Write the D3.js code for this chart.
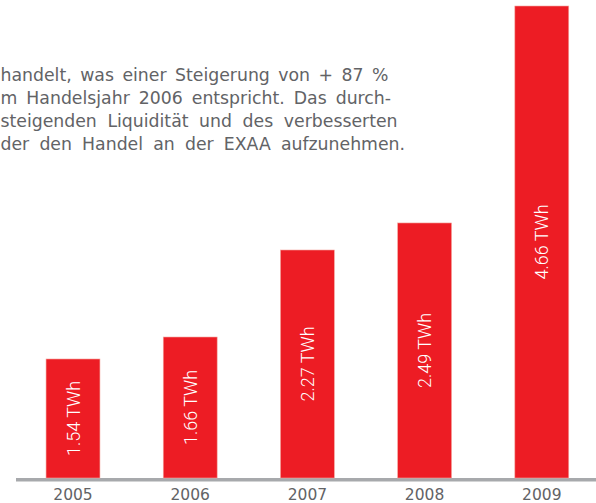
<!DOCTYPE html>
<html>
<head>
<meta charset="utf-8">
<script src="https://cdn.jsdelivr.net/npm/d3@7"></script>
<style>
  html, body { margin: 0; padding: 0; background: #ffffff; }
  svg { display: block; }
</style>
</head>
<body>
<svg id="chart" width="596" height="503"></svg>
<script>
// ---- data ----
const years = ["2005", "2006", "2007", "2008", "2009"];
const volumeLabels = ["1.54 TWh", "1.66 TWh", "2.27 TWh", "2.49 TWh", "4.66 TWh"];
// drawn bar heights as they appear in the picture (TWh scale)
const barHeights = [1.175, 1.392, 2.251, 2.518, 4.66];
const textLines = [
  "handelt, was einer Steigerung von + 87 %",
  "m Handelsjahr 2006 entspricht. Das durch-",
  "steigenden Liquidität und des verbesserten",
  "der den Handel an der EXAA aufzunehmen."
];

const W = 596, H = 503;
const baseY = 478;
const svg = d3.select("#chart");

const x = d3.scaleBand().domain(years).range([14.4, 600.4]).paddingInner(0.54).paddingOuter(0.27);
const y = d3.scaleLinear().domain([0, 4.66]).range([baseY, 6]);

// paragraph text (justified fragments of a cropped paragraph)
const textLeft = [0.5, 0.5, 0.5, 0.5];
const textRight = [388.5, 391, 397.5, 405];
const lineY = d3.scaleLinear().domain([0, 3]).range([80.5, 150]);
svg.append("g").selectAll("text").data(textLines).join("text")
  .attr("x", (d, i) => textLeft[i])
  .attr("y", (d, i) => lineY(i))
  .attr("font-family", "'DejaVu Sans', Verdana, sans-serif")
  .attr("font-size", 17.3)
  .attr("fill", "#626366")
  .text(d => d)
  .each(function (d, i) {
    const natural = this.getComputedTextLength();
    const spaces = (d.match(/ /g) || []).length;
    const extra = (textRight[i] - textLeft[i]) - natural;
    if (spaces > 0) d3.select(this).style("word-spacing", (extra / spaces) + "px");
  });

// baseline
svg.append("line")
  .attr("x1", 16).attr("x2", W)
  .attr("y1", baseY + 1.8).attr("y2", baseY + 1.8)
  .attr("stroke", "#a7a9ac").attr("stroke-width", 3.6);

const data = years.map((yr, i) => ({ yr, h: barHeights[i], label: volumeLabels[i] }));

// bars
svg.append("g").selectAll("rect").data(data).join("rect")
  .attr("x", d => x(d.yr))
  .attr("y", d => y(d.h))
  .attr("width", x.bandwidth())
  .attr("height", d => baseY - y(d.h))
  .attr("fill", "#ed1c24")
  .attr("stroke", "#f4a7a0")
  .attr("stroke-width", 0.6);

// in-bar labels
svg.append("g").selectAll("text").data(data).join("text")
  .attr("transform", d => {
    const cx = x(d.yr) + x.bandwidth() / 2;
    const cy = (y(d.h) + baseY) / 2;
    return `translate(${cx + 6.5},${cy}) rotate(-90)`;
  })
  .attr("text-anchor", "middle")
  .attr("font-family", "Roboto, 'Liberation Sans', sans-serif")
  .attr("font-weight", 300)
  .attr("font-size", 18)
  .attr("fill", "#ffffff")
  .text(d => d.label);

// year labels
svg.append("g").selectAll("text").data(years).join("text")
  .attr("x", d => x(d) + x.bandwidth() / 2)
  .attr("y", 499.5)
  .attr("text-anchor", "middle")
  .attr("font-family", "'DejaVu Sans', Verdana, sans-serif")
  .attr("font-size", 15.5)
  .attr("fill", "#626366")
  .text(d => d);
</script>
</body>
</html>
